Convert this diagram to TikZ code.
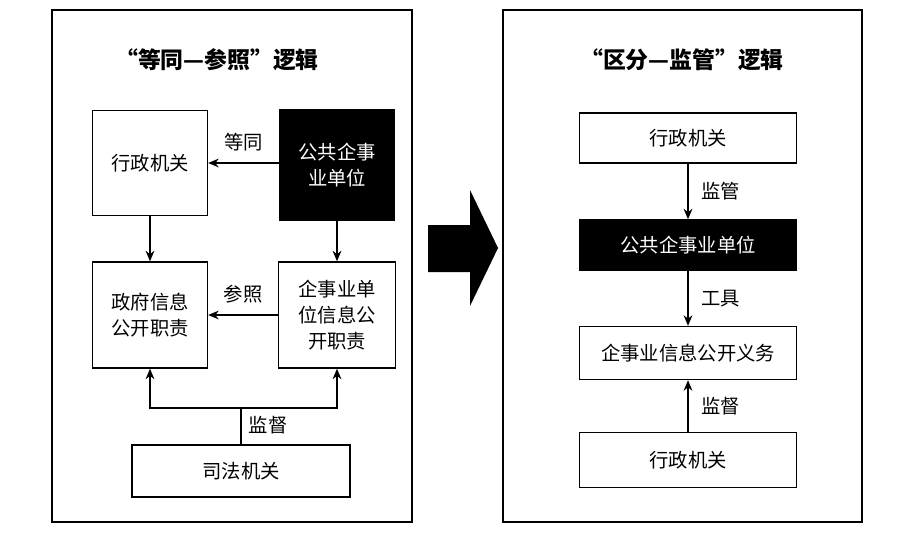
\documentclass[tikz,border=0pt]{standalone}
\usepackage{fontspec}
\setmainfont{Noto Sans CJK SC}
\usetikzlibrary{positioning,arrows.meta}
\tikzset{
  box/.style={draw, thick, fill=white, font=\fontsize{11}{15}\selectfont, align=center},
  dark/.style={box, fill=black, text=white},
  arr/.style={-{Stealth[length=6pt,width=5pt]}, thick},
  lbl/.style={font=\fontsize{11}{13}\selectfont},
  ttl/.style={font=\fontsize{13}{15}\selectfont\bfseries}
}
\begin{document}
\begin{tikzpicture}[x=0.02cm, y=-0.02cm]
    \useasboundingbox (0,0) rectangle (918,532);
    % left frame
    \draw[thick] (52,10) rectangle (412,522);
    \node[ttl] (tl) at (217,60) {“等同—参照”逻辑};
    \node[box, minimum width=2.3cm, minimum height=2.1cm] (xz) at (150,163) {行政机关};
    \node[dark, minimum width=2.3cm, minimum height=2.2cm] (gg) at (337,165) {公共企事\\业单位};
    \node[box, minimum width=2.3cm, minimum height=2.12cm] (zf) at (150,315) {政府信息\\公开职责};
    \node[box, minimum width=2.34cm, minimum height=2.12cm] (qy) at (337,315) {企事业单\\位信息公\\开职责};
    \node[box, minimum width=4.36cm, minimum height=1.04cm] (sf) at (241,471) {司法机关};
    \draw[arr] (gg.west |- xz) -- (xz.east) node[lbl, midway, above=3pt] {等同};
    \draw[arr] (xz) -- (zf);
    \draw[arr] (gg) -- (qy);
    \draw[arr] (qy.west |- zf) -- (zf.east) node[lbl, midway, above=3pt] {参照};
    \coordinate (jd) at (241,408);
    \draw[thick] (sf.north) -- (jd);
    \draw[arr] (jd) -| (zf.south);
    \draw[arr] (jd) -| (qy.south);
    \node[lbl] (jdl) at (268,425) {监督};
    % big arrow
    \fill (428,225) -- (470,225) -- (470,190) -- (498,248) -- (470,306) -- (470,272) -- (428,272) -- cycle;
    % right frame
    \draw[thick] (503,10) rectangle (862,522);
    \node[ttl] (tr) at (682,60) {“区分—监管”逻辑};
    \node[box, minimum width=4.34cm, minimum height=1cm] (r1) at (688,138) {行政机关};
    \node[dark, minimum width=4.34cm, minimum height=1cm] (r2) at (688,245) {公共企事业单位};
    \node[box, minimum width=4.34cm, minimum height=1.06cm] (r3) at (688,353) {企事业信息公开义务};
    \node[box, minimum width=4.34cm, minimum height=1.1cm] (r4) at (688,460) {行政机关};
    \draw[arr] (r1) -- (r2) node[lbl, midway, right=4pt] {监管};
    \draw[arr] (r2) -- (r3) node[lbl, midway, right=4pt] {工具};
    \draw[arr] (r4) -- (r3) node[lbl, midway, right=4pt] {监督};
\end{tikzpicture}
\end{document}
